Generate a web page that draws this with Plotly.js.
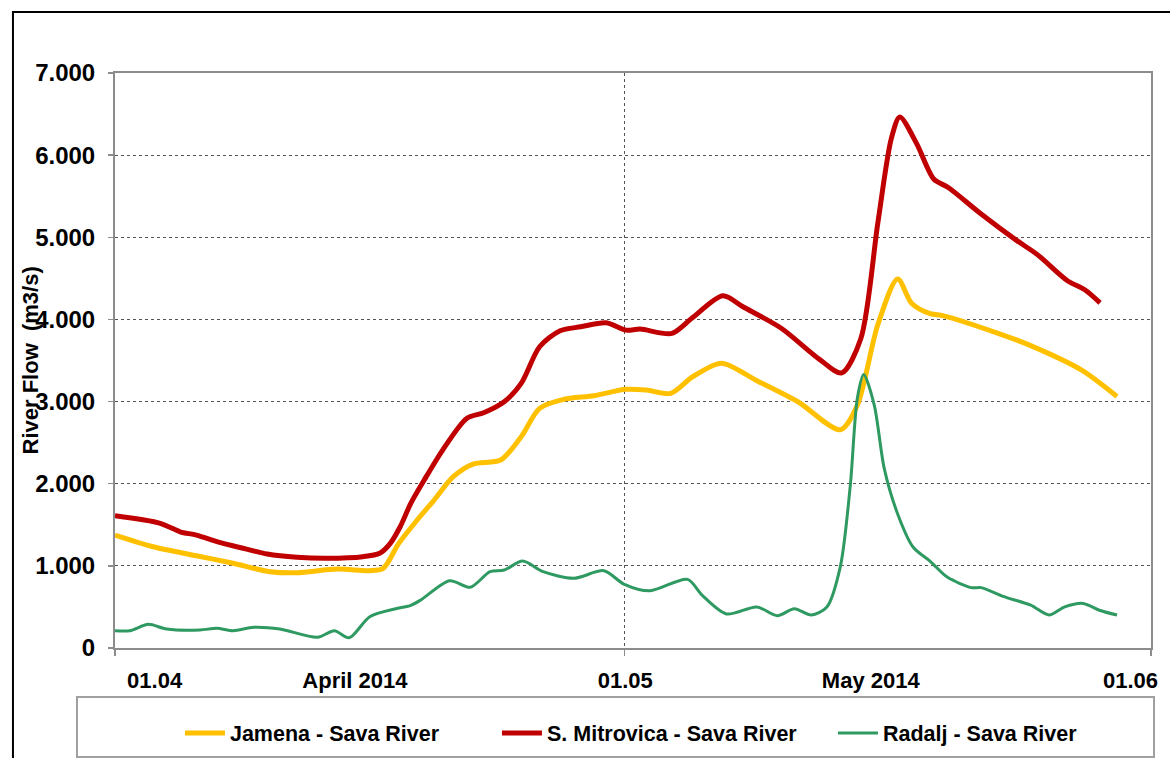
<!DOCTYPE html>
<html>
<head>
<meta charset="utf-8">
<script src="https://cdn.plot.ly/plotly-3.0.1.min.js"></script>
<style>html,body{margin:0;padding:0;background:#fff;}#chart{width:1170px;height:758px;}</style>
</head>
<body>
<div id="chart"></div>
<script>
// ---- data ----
const seriesNames = ['Jamena - Sava River', 'S. Mitrovica - Sava River', 'Radalj - Sava River'];

const jamenaDates = ['2014-04-01 00:00','2014-04-03 06:00','2014-04-05 19:00','2014-04-07 23:00','2014-04-10 03:00','2014-04-11 17:00','2014-04-14 02:00','2014-04-16 00:00','2014-04-16 19:00','2014-04-17 17:00','2014-04-18 19:00','2014-04-19 19:00','2014-04-20 22:00','2014-04-22 02:00','2014-04-23 17:00','2014-04-24 22:00','2014-04-26 00:00','2014-04-27 10:00','2014-04-29 05:00','2014-05-01 02:00','2014-05-02 07:00','2014-05-03 17:00','2014-05-05 00:00','2014-05-06 17:00','2014-05-08 19:00','2014-05-11 05:00','2014-05-13 17:00','2014-05-14 17:00','2014-05-15 22:00','2014-05-17 02:00','2014-05-17 22:00','2014-05-19 00:00','2014-05-19 19:00','2014-05-23 00:00','2014-05-24 22:00','2014-05-27 22:00','2014-05-30 00:00'];
const jamenaFlow = [1375,1233,1123,1031,929,916,961,941,970,1274,1558,1801,2085,2239,2288,2572,2917,3027,3071,3149,3140,3100,3300,3468,3254,2998,2657,2955,3938,4493,4194,4070,4044,3831,3681,3383,3062];

const mitrovicaDates = ['2014-04-01 00:00','2014-04-03 16:00','2014-04-04 20:00','2014-04-05 19:00','2014-04-07 05:00','2014-04-08 13:00','2014-04-09 23:00','2014-04-11 17:00','2014-04-13 12:00','2014-04-15 14:00','2014-04-16 14:00','2014-04-17 05:00','2014-04-17 19:00','2014-04-18 10:00','2014-04-19 05:00','2014-04-20 07:00','2014-04-21 17:00','2014-04-22 17:00','2014-04-23 22:00','2014-04-24 22:00','2014-04-26 00:00','2014-04-27 05:00','2014-04-28 10:00','2014-04-29 22:00','2014-05-01 02:00','2014-05-01 22:00','2014-05-03 19:00','2014-05-05 00:00','2014-05-06 19:00','2014-05-08 00:00','2014-05-10 05:00','2014-05-12 12:00','2014-05-13 19:00','2014-05-14 22:00','2014-05-15 22:00','2014-05-16 17:00','2014-05-17 05:00','2014-05-18 05:00','2014-05-19 05:00','2014-05-20 02:00','2014-05-22 00:00','2014-05-24 02:00','2014-05-25 07:00','2014-05-27 02:00','2014-05-28 02:00','2014-05-29 00:00'];
const mitrovicaFlow = [1610,1518,1415,1375,1282,1214,1144,1104,1092,1111,1153,1274,1476,1761,2045,2410,2795,2864,2998,3221,3667,3862,3910,3959,3870,3882,3830,4020,4288,4151,3895,3511,3349,3767,5176,6200,6465,6137,5710,5603,5283,4962,4792,4471,4364,4202];

const radaljDates = ['2014-04-01 00:00','2014-04-01 21:00','2014-04-02 23:00','2014-04-04 01:00','2014-04-06 00:00','2014-04-07 00:00','2014-04-07 23:00','2014-04-09 04:00','2014-04-10 17:00','2014-04-12 22:00','2014-04-13 22:00','2014-04-14 19:00','2014-04-16 00:00','2014-04-17 14:00','2014-04-18 10:00','2014-04-19 00:00','2014-04-20 17:00','2014-04-21 22:00','2014-04-23 02:00','2014-04-23 22:00','2014-04-25 00:00','2014-04-26 05:00','2014-04-28 00:00','2014-04-29 19:00','2014-04-30 23:00','2014-05-02 12:00','2014-05-04 17:00','2014-05-05 14:00','2014-05-07 00:00','2014-05-08 19:00','2014-05-10 00:00','2014-05-11 00:00','2014-05-12 00:00','2014-05-12 22:00','2014-05-13 17:00','2014-05-14 07:00','2014-05-14 17:00','2014-05-15 02:00','2014-05-15 17:00','2014-05-16 07:00','2014-05-17 02:00','2014-05-18 00:00','2014-05-19 00:00','2014-05-20 00:00','2014-05-21 10:00','2014-05-22 00:00','2014-05-23 07:00','2014-05-24 22:00','2014-05-26 00:00','2014-05-26 22:00','2014-05-28 00:00','2014-05-29 00:00','2014-05-30 00:00'];
const radaljFlow = [211,211,288,231,219,240,211,252,231,130,211,125,381,480,520,584,819,739,929,949,1059,929,848,941,779,697,836,640,415,500,393,479,402,500,991,1973,3041,3330,2955,2187,1632,1226,1055,863,735,735,628,521,402,500,543,457,402];

const tickDates = ['2014-04-03 08:00','2014-04-15 03:00','2014-05-01 01:00','2014-05-15 12:00','2014-05-30 19:00'];
const tickLabels = ['01.04','April 2014','01.05','May 2014','01.06'];
const monthStarts = ['2014-04-01','2014-05-01','2014-06-01'];
const yTitle = 'River Flow  (m3/s)';

// ---- chart ----
const FONT = '"Liberation Sans", Arial, sans-serif';

const traces = [
  {x: jamenaDates, y: jamenaFlow, name: seriesNames[0], type: 'scatter', mode: 'lines', legendwidth: 262,
   line: {color: '#FFC000', width: 5, shape: 'spline', smoothing: 0.8}},
  {x: mitrovicaDates, y: mitrovicaFlow, name: seriesNames[1], type: 'scatter', mode: 'lines', legendwidth: 281,
   line: {color: '#C00000', width: 5, shape: 'spline', smoothing: 0.8}},
  {x: radaljDates, y: radaljFlow, name: seriesNames[2], type: 'scatter', mode: 'lines', legendwidth: 200,
   line: {color: '#2E9960', width: 3, shape: 'spline', smoothing: 0.8}}
];

const layout = {
  width: 1170, height: 758,
  margin: {l: 115, r: 19, t: 73, b: 110},
  paper_bgcolor: '#ffffff', plot_bgcolor: '#ffffff',
  separators: ',.',
  font: {family: FONT, size: 22, color: '#000'},
  showlegend: true,
  legend: {orientation: 'h', x: 0.0627, xanchor: 'left', yref: 'container', y: 0.033, yanchor: 'middle',
           font: {family: FONT, size: 21.5, color: '#000', weight: 'bold'},
           bgcolor: 'rgba(0,0,0,0)', borderwidth: 0, itemwidth: 40},
  xaxis: {
    type: 'date', range: ['2014-04-01', '2014-06-01'],
    tickmode: 'array', tickvals: tickDates, ticktext: tickLabels,
    ticks: '', showgrid: false, zeroline: false,
    tickfont: {family: FONT, size: 22, color: '#000', weight: 'bold'},
    ticklabelstandoff: 12,
    showline: true, linecolor: '#8c8c8c', linewidth: 2, mirror: true,
    minor: {tickmode: 'array', tickvals: monthStarts, ticks: 'outside', ticklen: 6, tickwidth: 1.5,
            tickcolor: '#8c8c8c', showgrid: true, gridcolor: '#555', griddash: 'dot', gridwidth: 1}
  },
  yaxis: {
    range: [0, 7000], tickmode: 'linear', tick0: 0, dtick: 1000, tickformat: ',d',
    ticks: 'outside', ticklen: 5, tickcolor: '#8c8c8c', tickwidth: 1.5,
    tickfont: {family: FONT, size: 24, color: '#000', weight: 'bold'},
    ticklabelstandoff: 8,
    showgrid: true, gridcolor: '#555', griddash: 'dot', gridwidth: 1,
    zeroline: false,
    showline: true, linecolor: '#8c8c8c', linewidth: 2, mirror: true
  },
  shapes: [
    {type: 'rect', xref: 'paper', yref: 'paper', x0: -0.0985, x1: 1.06, y0: 1.1061, y1: -0.25,
     line: {color: '#000', width: 2}, fillcolor: 'rgba(0,0,0,0)', layer: 'above'},
    {type: 'rect', xref: 'paper', yref: 'paper', x0: -0.0367, x1: 1.0029, y0: -0.0852, y1: -0.1896,
     line: {color: '#a0a0a0', width: 2}, fillcolor: 'rgba(0,0,0,0)', layer: 'above'}
  ],
  annotations: [
    {text: yTitle, xref: 'paper', yref: 'paper', x: 0, y: 0.5, xshift: -85, textangle: -90,
     xanchor: 'center', yanchor: 'middle', showarrow: false,
     font: {family: FONT, size: 22, color: '#000', weight: 'bold'}}
  ]
};

Plotly.newPlot('chart', traces, layout, {displayModeBar: false, staticPlot: true});
</script>
</body>
</html>
